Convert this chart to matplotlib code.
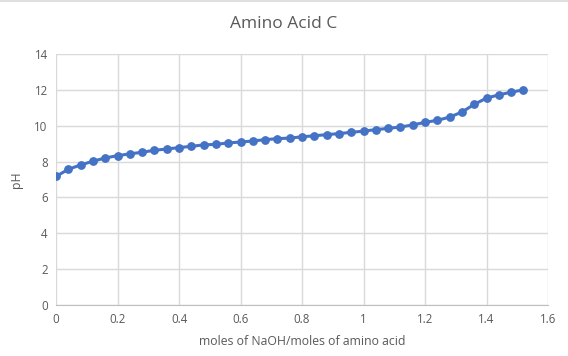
import matplotlib
matplotlib.use("Agg")
import matplotlib.pyplot as plt
from matplotlib.lines import Line2D

x_vals = [0.00, 0.04, 0.08, 0.12, 0.16, 0.20, 0.24, 0.28, 0.32, 0.36,
          0.40, 0.44, 0.48, 0.52, 0.56, 0.60, 0.64, 0.68, 0.72, 0.76,
          0.80, 0.84, 0.88, 0.92, 0.96, 1.00, 1.04, 1.08, 1.12, 1.16,
          1.20, 1.24, 1.28, 1.32, 1.36, 1.40, 1.44, 1.48, 1.52]
ph_vals = [7.17, 7.57, 7.81, 8.02, 8.20, 8.33, 8.43, 8.52, 8.63, 8.70,
           8.78, 8.85, 8.93, 8.96, 9.04, 9.09, 9.15, 9.22, 9.28, 9.31,
           9.38, 9.44, 9.50, 9.56, 9.63, 9.70, 9.78, 9.85, 9.93, 10.04,
           10.19, 10.30, 10.48, 10.76, 11.19, 11.54, 11.72, 11.87, 12.00]
x_ticks = [0, 0.2, 0.4, 0.6, 0.8, 1.0, 1.2, 1.4, 1.6]
x_tick_labels = ["0", "0.2", "0.4", "0.6", "0.8", "1", "1.2", "1.4", "1.6"]
y_ticks = [0, 2, 4, 6, 8, 10, 12, 14]

plt.rcParams['font.family'] = ['Open Sans', 'DejaVu Sans']

fig = plt.figure(figsize=(5.68, 3.56), dpi=100)
ax = fig.add_axes([56/568, 51/356, 492/568, 251/356])

ax.plot(x_vals, ph_vals, color='#4472C4', linewidth=2.2, marker='o',
        markersize=5.3, markerfacecolor='#4472C4', markeredgecolor='#4472C4', zorder=3)

ax.set_xlim(0, 1.6)
ax.set_ylim(0, 14)
ax.set_xticks(x_ticks)
ax.set_xticklabels(x_tick_labels)
ax.set_yticks(y_ticks)
ax.grid(True, color='#D9D9D9', linewidth=1)
ax.set_axisbelow(True)
for s in ['top', 'right', 'left']:
    ax.spines[s].set_visible(False)
ax.spines['bottom'].set_color('#BFBFBF')
ax.tick_params(length=0, colors='#595959', labelsize=8.3, pad=6)

ax.set_xlabel("moles of NaOH/moles of amino acid", color='#595959', fontsize=8.8, labelpad=6)
ax.set_ylabel("pH", color='#595959', fontsize=8.8, labelpad=8)
fig.suptitle("Amino Acid C", color='#595959', fontsize=12.5, y=0.955)

fig.add_artist(Line2D([0, 1], [0.998, 0.998], transform=fig.transFigure,
                      color='#D9D9D9', linewidth=1.2))

fig.savefig("out.png", dpi=100)
